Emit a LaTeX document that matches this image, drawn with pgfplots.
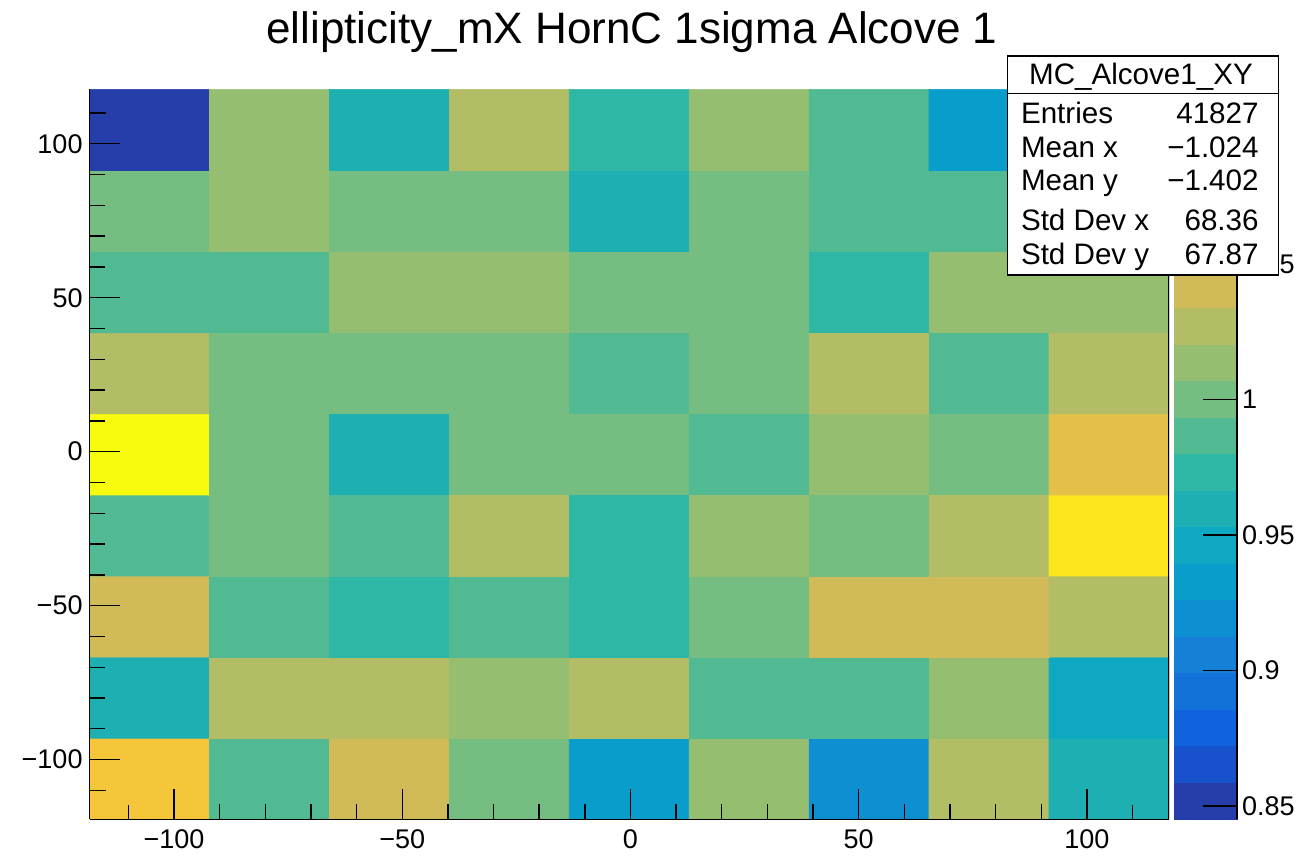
\documentclass[border=0pt]{standalone}
\usepackage{pgfplots}
\pgfplotsset{compat=1.18}
\usepackage{pgfplotstable}
\usepackage{fontspec}
\setmainfont{Liberation Sans}

% ROOT kBird palette, 20 contour levels (last colour repeated for piecewise constant)
\pgfplotsset{
  colormap={rootbird}{
    rgb255(0cm)=(38,62,170)   rgb255(1cm)=(23,82,204)   rgb255(2cm)=(16,99,220)
    rgb255(3cm)=(18,114,217)  rgb255(4cm)=(20,129,214)  rgb255(5cm)=(14,143,209)
    rgb255(6cm)=(9,157,204)   rgb255(7cm)=(14,168,194)  rgb255(8cm)=(30,175,179)
    rgb255(9cm)=(46,183,164)  rgb255(10cm)=(82,186,146) rgb255(11cm)=(117,189,128)
    rgb255(12cm)=(150,190,113) rgb255(13cm)=(179,189,101) rgb255(14cm)=(209,187,89)
    rgb255(15cm)=(227,192,74) rgb255(16cm)=(245,198,58) rgb255(17cm)=(253,211,43)
    rgb255(18cm)=(251,231,28) rgb255(19cm)=(249,251,14) rgb255(20cm)=(249,251,14)
  },
}

% bin centres and contents, rows from bottom to top
\pgfplotstableread{
x y z
-105.36 -106.23 1.0675
-79.08 -106.23 0.9866
-52.80 -106.23 1.0405
-26.53 -106.23 1.0001
-0.25 -106.23 0.9327
26.03 -106.23 1.0136
52.31 -106.23 0.9192
78.58 -106.23 1.0271
104.86 -106.23 0.9597
-105.36 -79.88 0.9597
-79.08 -79.88 1.0271
-52.80 -79.88 1.0271
-26.53 -79.88 1.0136
-0.25 -79.88 1.0271
26.03 -79.88 0.9866
52.31 -79.88 0.9866
78.58 -79.88 1.0136
104.86 -79.88 0.9462
-105.36 -53.54 1.0405
-79.08 -53.54 0.9866
-52.80 -53.54 0.9731
-26.53 -53.54 0.9866
-0.25 -53.54 0.9731
26.03 -53.54 1.0001
52.31 -53.54 1.0405
78.58 -53.54 1.0405
104.86 -53.54 1.0271
-105.36 -27.20 0.9866
-79.08 -27.20 1.0001
-52.80 -27.20 0.9866
-26.53 -27.20 1.0271
-0.25 -27.20 0.9731
26.03 -27.20 1.0136
52.31 -27.20 1.0001
78.58 -27.20 1.0271
104.86 -27.20 1.0945
-105.36 -0.86 1.1146
-79.08 -0.86 1.0001
-52.80 -0.86 0.9597
-26.53 -0.86 1.0001
-0.25 -0.86 1.0001
26.03 -0.86 0.9866
52.31 -0.86 1.0136
78.58 -0.86 1.0001
104.86 -0.86 1.0540
-105.36 25.49 1.0271
-79.08 25.49 1.0001
-52.80 25.49 1.0001
-26.53 25.49 1.0001
-0.25 25.49 0.9866
26.03 25.49 1.0001
52.31 25.49 1.0271
78.58 25.49 0.9866
104.86 25.49 1.0271
-105.36 51.83 0.9866
-79.08 51.83 0.9866
-52.80 51.83 1.0136
-26.53 51.83 1.0136
-0.25 51.83 1.0001
26.03 51.83 1.0001
52.31 51.83 0.9731
78.58 51.83 1.0136
104.86 51.83 1.0136
-105.36 78.17 1.0001
-79.08 78.17 1.0136
-52.80 78.17 1.0001
-26.53 78.17 1.0001
-0.25 78.17 0.9597
26.03 78.17 1.0001
52.31 78.17 0.9866
78.58 78.17 0.9866
104.86 78.17 0.9866
-105.36 104.52 0.8451
-79.08 104.52 1.0136
-52.80 104.52 0.9597
-26.53 104.52 1.0271
-0.25 104.52 0.9731
26.03 104.52 1.0136
52.31 104.52 0.9866
78.58 104.52 0.9327
104.86 104.52 1.0001
}\cells

\begin{document}
\begin{tikzpicture}[x=1pt,y=1pt]
\useasboundingbox (0,0) rectangle (653,428);
\begin{axis}[
  at={(44.8pt,18.35pt)}, anchor=south west,
  scale only axis, width=539.7pt, height=365pt,
  xmin=-118.5, xmax=118, ymin=-119.4, ymax=117.7,
  axis on top,
  axis x line*=bottom, axis y line*=left,
  axis line style={-, line width=0.6pt},
  tick align=inside,
  xtick={-100,-50,0,50,100}, xticklabels={−100,−50,0,50,100},
  ytick={-100,-50,0,50,100}, yticklabels={−100,−50,0,50,100},
  minor x tick num=4, minor y tick num=4,
  extra x ticks={-110,110}, extra x tick labels={},
  extra x tick style={major tick length=7pt},
  extra y ticks={-110,110}, extra y tick labels={},
  extra y tick style={major tick length=8pt},
  major tick length=15pt, minor tick length=7.5pt,
  tick style={line width=0.7pt, black},
  ticklabel style={font=\fontsize{13.5}{16}\selectfont},
  xticklabel style={yshift=-1.5pt},
  colormap name=rootbird, colormap access=piecewise constant,
  point meta min=0.8451, point meta max=1.1146,
  colorbar,
  colorbar style={
    at={(parent axis.north east)}, anchor=north west, xshift=-6.035pt,
    scale only axis, width=31.5pt,
    axis on top,
    separate axis lines,
    axis x line=none, axis y line*=right,
    axis line style={-, line width=0.6pt},
    ytick={0.85,0.9,0.95,1,1.05}, yticklabels={0.85,0.9,0.95,1,1.05},
    yticklabel pos=right,
    tick align=inside,
    major tick length=17pt,
    tick style={line width=0.7pt, black},
    yticklabel style={font=\fontsize{13.5}{16}\selectfont, xshift=-1pt},
  },
]
\addplot[matrix plot*, mesh/cols=9, point meta=explicit]
  table[x=x, y=y, meta=z] {\cells};
\draw[line width=0.6pt] (rel axis cs:1,0) -- (rel axis cs:1,1);
\end{axis}

% title
\node[anchor=base, font=\fontsize{22}{26}\selectfont, inner sep=0pt]
  at (316,406) {ellipticity\_mX HornC 1sigma Alcove 1};

% statistics box
\begin{scope}[font=\fontsize{14.8}{17}\selectfont]
\draw[fill=white, line width=0.6pt] (503.7,290.5) rectangle (639.2,400);
\draw[line width=0.6pt] (503.7,381.3) -- (639.2,381.3);
\node[anchor=base, inner sep=0pt] at (570.5,385.5) {MC\_Alcove1\_XY};
\node[anchor=base west, inner sep=0pt] at (510.3,366) {Entries};
\node[anchor=base east, inner sep=0pt] at (629.5,366) {41827};
\node[anchor=base west, inner sep=0pt] at (510.3,349.4) {Mean x};
\node[anchor=base east, inner sep=0pt] at (629.5,349.4) {−1.024};
\node[anchor=base west, inner sep=0pt] at (510.3,332.8) {Mean y};
\node[anchor=base east, inner sep=0pt] at (629.5,332.8) {−1.402};
\node[anchor=base west, inner sep=0pt] at (510.3,312.5) {Std Dev x};
\node[anchor=base east, inner sep=0pt] at (629.5,312.5) {68.36};
\node[anchor=base west, inner sep=0pt] at (510.3,295.7) {Std Dev y};
\node[anchor=base east, inner sep=0pt] at (629.5,295.7) {67.87};
\end{scope}
\end{tikzpicture}
\end{document}
